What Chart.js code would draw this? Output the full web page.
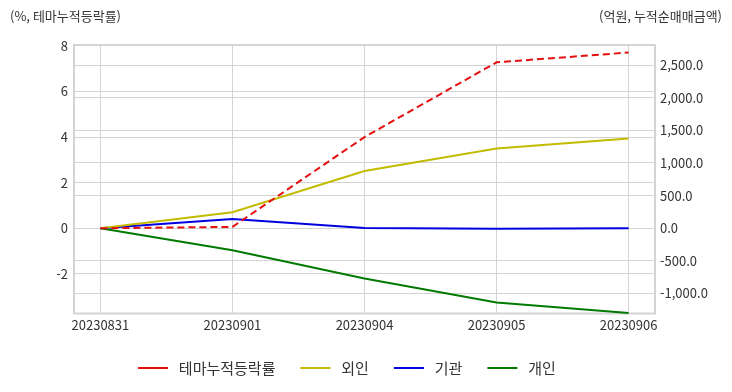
<!DOCTYPE html>
<html lang="ko">
<head>
<meta charset="utf-8">
<script src="https://cdn.jsdelivr.net/npm/chart.js@4.4.0/dist/chart.umd.min.js"></script>
<style>
  html, body { margin: 0; padding: 0; background: #fff; }
  #wrap { width: 732px; height: 392px; position: relative; }
</style>
</head>
<body>
<div id="wrap"><canvas id="chart" width="732" height="392"></canvas></div>
<script>
// ---------- data ----------
const dates = ["20230831", "20230901", "20230904", "20230905", "20230906"];
const themeRate = [0, 0.06, 4.0, 7.28, 7.71];        // %, left axis
const foreign = [0, 245, 877, 1220, 1374];            // 억원, right axis
const institution = [0, 142, 3, -8, 0];
const individual = [0, -337, -770, -1138, -1300];
const leftTicks = [-2, 0, 2, 4, 6, 8];
const rightTicks = [-1000, -500, 0, 500, 1000, 1500, 2000, 2500];

const FONT = "'Noto Sans CJK KR', 'Noto Sans', sans-serif";
const GRID = "#d4d4d4";
const LEGEND_PAD = 25;

const pts = arr => arr.map((v, i) => ({ x: i, y: v }));

// ---------- axis titles + plot frame + legend shift ----------
const framePlugin = {
  id: "frame",
  beforeDraw(chart) {
    // legend in the reference sits a bit left of centre
    const lg = chart.legend;
    if (lg && lg.lineWidths) lg.right = 2 * 138 - lg.left - LEGEND_PAD + lg.lineWidths[0];
  },
  beforeDatasetsDraw(chart) {
    const { ctx, chartArea: a } = chart;
    ctx.save();
    ctx.strokeStyle = GRID;
    ctx.lineWidth = 2;
    ctx.strokeRect(a.left, a.top, a.right - a.left, a.bottom - a.top);
    ctx.restore();
  },
  afterDraw(chart) {
    const ctx = chart.ctx;
    ctx.save();
    ctx.fillStyle = "#333";
    ctx.font = "13px " + FONT;
    ctx.textBaseline = "middle";
    ctx.textAlign = "left";
    ctx.fillText("(%, 테마누적등락률)", 10, 16);
    ctx.textAlign = "right";
    ctx.fillText("(억원, 누적순매매금액)", 722, 16);
    ctx.restore();
  }
};

new Chart(document.getElementById("chart").getContext("2d"), {
  type: "line",
  data: {
    datasets: [
      { label: "테마누적등락률", data: pts(themeRate), yAxisID: "y", borderColor: "#e41010", borderDash: [7, 4], borderWidth: 2 },
      { label: "외인", data: pts(foreign), yAxisID: "y1", borderColor: "#c2bc00", borderWidth: 2 },
      { label: "기관", data: pts(institution), yAxisID: "y1", borderColor: "#0000e0", borderWidth: 2 },
      { label: "개인", data: pts(individual), yAxisID: "y1", borderColor: "#007a00", borderWidth: 2 }
    ]
  },
  options: {
    responsive: false,
    animation: false,
    clip: false,
    elements: { point: { radius: 0, hoverRadius: 0 }, line: { tension: 0 } },
    layout: { padding: { top: 45, left: 0, right: 0, bottom: 6.5 } },
    plugins: {
      tooltip: { enabled: false },
      legend: {
        position: "bottom",
        labels: {
          usePointStyle: true,
          pointStyle: "line",
          pointStyleWidth: 30,
          padding: LEGEND_PAD,
          color: "#333",
          font: { family: FONT, size: 15 },
          generateLabels: chart => {
            const items = Chart.defaults.plugins.legend.labels.generateLabels(chart);
            items.forEach(it => { it.text = " " + it.text; });
            return items;
          }
        }
      }
    },
    scales: {
      x: {
        type: "linear",
        min: -0.2,
        max: 4.2,
        afterBuildTicks: s => { s.ticks = dates.map((_, i) => ({ value: i })); },
        afterFit: s => { s.height = 22; },
        grid: { color: GRID, drawTicks: false },
        border: { display: false },
        ticks: {
          padding: 4,
          color: "#333",
          font: { family: FONT, size: 13 },
          maxRotation: 0,
          autoSkip: false,
          callback: v => dates[v]
        }
      },
      y: {
        position: "left",
        min: -3.74,
        max: 8.04,
        afterBuildTicks: s => { s.ticks = leftTicks.map(v => ({ value: v })); },
        afterFit: s => { s.width = 74; },
        grid: { color: GRID, drawTicks: false },
        border: { display: false },
        ticks: { padding: 6, color: "#333", font: { family: FONT, size: 13 } }
      },
      y1: {
        position: "right",
        min: -1306,
        max: 2807,
        afterBuildTicks: s => { s.ticks = rightTicks.map(v => ({ value: v })); },
        afterFit: s => { s.width = 77; },
        grid: { color: GRID, drawTicks: false },
        border: { display: false },
        ticks: {
          padding: 5,
          color: "#333",
          font: { family: FONT, size: 13 },
          callback: v => v.toLocaleString("en-US", { minimumFractionDigits: 1, maximumFractionDigits: 1 })
        }
      }
    }
  },
  plugins: [framePlugin]
});
</script>
</body>
</html>
